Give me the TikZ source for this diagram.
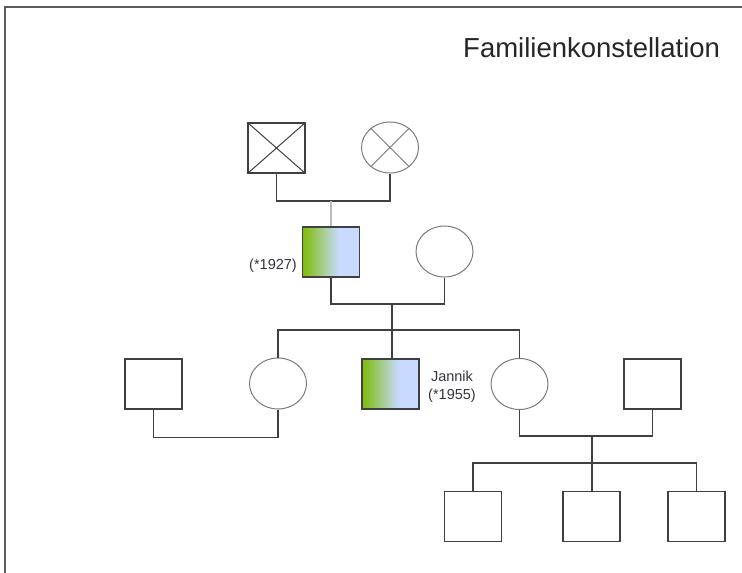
\documentclass[tikz,border=0pt]{standalone}
\usepackage{fontspec}
\setmainfont{Liberation Sans}
\usetikzlibrary{shapes.geometric}
\definecolor{linie}{HTML}{404040}
\definecolor{kreis}{HTML}{7A7A7A}
\definecolor{grau}{HTML}{BBBBBB}
\definecolor{rahmen}{HTML}{5C5C5C}
\definecolor{schrift}{HTML}{34343C}
\definecolor{gruen}{HTML}{82BE14}
\definecolor{hellblau}{HTML}{C8DAFF}
\pgfdeclarehorizontalshading{gruenblau}{100bp}{color(0bp)=(gruen); color(27bp)=(gruen); color(57bp)=(hellblau); color(100bp)=(hellblau)}
\begin{document}
\begin{tikzpicture}[x=1pt,y=-1pt,line cap=butt,line join=miter]
	\tikzset{
		mann/.style={draw=linie,line width=1.4pt,rectangle,minimum width=57pt,minimum height=50pt,inner sep=0pt},
		frau/.style={draw=kreis,line width=1pt,ellipse,minimum width=57pt,minimum height=51pt,inner sep=0pt},
		index/.style={mann,shading=gruenblau},
		verb/.style={draw=linie,line width=1.4pt},
		jahr/.style={font=\fontsize{14.5}{18}\selectfont,text=schrift,align=center,inner sep=0pt}
	}
	\useasboundingbox (0,0) rectangle (742,573);
	\draw[rahmen,line width=2pt] (4,7)--(742,7);
	\draw[rahmen,line width=2pt] (5,7)--(5,573);
	\node[anchor=base west,font=\fontsize{27.5}{33}\selectfont,text=black!85,inner sep=0pt] (titel) at (463,57) {Familienkonstellation};
	% Grosseltern
	\node[mann] (gvater) at (276.5,148) {};
	\node[frau] (gmutter) at (390,147.5) {};
	\draw[linie,line width=1pt] (gvater.north west)--(gvater.south east) (gvater.north east)--(gvater.south west);
	\draw[kreis,line width=1pt] (gmutter.45)--(gmutter.225) (gmutter.135)--(gmutter.-45);
	% Eltern
	\node[index] (vater) at (331,252) {};
	\node[frau] (mutter) at (444.5,251.5) {};
	\node[jahr,anchor=east] (vjahr) at (297,265.5) {(*1927)};
	% Kinder
	\node[mann] (partner1) at (153.5,384) {};
	\node[frau] (tochter1) at (278,383.5) {};
	\node[index] (jannik) at (390.5,384) {};
	\node[frau] (tochter2) at (519.5,384) {};
	\node[mann] (partner2) at (652.5,384) {};
	\node[jahr] (jjahr) at (452,387) {Jannik\\(*1955)};
	% Enkel
	\foreach \n/\x in {1/473, 2/591.5, 3/696.5}{
		\node[mann] (enkel\n) at (\x,516.5) {};
	}
	% Verbindungen
	\coordinate (e1) at (331,201);
	\coordinate (e2) at (392,304);
	\coordinate (geschw) at (392,330);
	\coordinate (e3) at (592,436);
	\coordinate (e4) at (592,463);
	\draw[verb] (gvater.south) |- (e1) -| (gmutter.south);
	\draw[grau,line width=1.4pt] (e1)--(vater.north);
	\draw[verb] (vater.south) |- (e2) -| (mutter.south);
	\draw[verb] (e2)--(geschw);
	\draw[verb] (tochter1.north) |- (geschw) -| (tochter2.north);
	\draw[verb] (geschw)--(geschw |- jannik.north);
	\draw[verb] (partner1.south)--++(0,28) -| (tochter1.south);
	\draw[verb] (tochter2.south) |- (e3) -| (partner2.south);
	\draw[verb] (e3)--(e4);
	\draw[verb] (enkel1.north) |- (e4) -| (enkel3.north);
	\draw[verb] (e4)--(e4 |- enkel2.north);
\end{tikzpicture}
\end{document}
